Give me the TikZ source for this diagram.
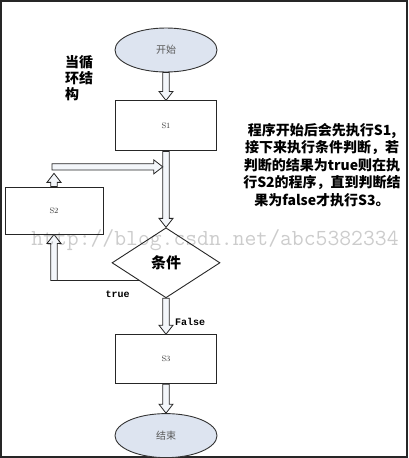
\documentclass[tikz,border=0pt]{standalone}
\usepackage{fontspec}
\newfontfamily\cjk{Noto Sans CJK SC}
\newfontfamily\mono{Liberation Mono}
\usepackage{xcolor}
\definecolor{colorTerminal}{RGB}{221,228,240}
\colorlet{colorShaft}{colorTerminal!35}
\colorlet{colorLabel}{black!65}
\colorlet{colorStep}{black!80}
\usetikzlibrary{calc, shapes.geometric, positioning}
\tikzset{
  hollow/.style={draw=black!85, fill=colorShaft, line width=0.8pt, line join=miter},
  terminal/.style={ellipse, draw=black!80, fill=colorTerminal, line width=0.9pt,
    minimum width=102pt, minimum height=44pt, inner sep=0pt, text=colorLabel,
    font=\cjk\fontsize{10pt}{12pt}\selectfont},
  process/.style={rectangle, draw=black!85, line width=0.9pt, minimum width=101pt,
    minimum height=50pt, inner sep=0pt, text=colorStep, font=\footnotesize},
  decision/.style={diamond, draw=black!85, line width=0.9pt, minimum width=108pt,
    minimum height=70pt, inner sep=0pt, font=\cjk\bfseries\fontsize{15pt}{17pt}\selectfont},
  branch/.style={inner sep=0pt, font=\mono\bfseries\fontsize{10pt}{12pt}\selectfont}
}
\newcommand{\hollowarrow}[2]{%
  \coordinate (ha) at ($(#2)!9pt!(#1)$);
  \draw[hollow] ($(#1)!3.2pt!90:(#2)$) -- ($(ha)!3.2pt!90:(#2)$) -- ($(ha)!7pt!90:(#2)$) -- (#2)
    -- ($(ha)!7pt!-90:(#2)$) -- ($(ha)!3.2pt!-90:(#2)$) -- ($(#1)!3.2pt!-90:(#2)$) -- cycle;}

\begin{document}
\begin{tikzpicture}[x=1pt, y=-1pt]
\useasboundingbox (0,0) rectangle (408,458);
\draw[line width=1.5pt, black!85] (1,1) rectangle (407,457);
\node[terminal] (n0) at (166,50) {开始};
\node[process, below=28pt of n0] (n1) {S1};
\node[decision, below=76pt of n1] (n2) {条件};
\node[process, below=36pt of n2, minimum height=49pt] (n4) {S3};
\node[terminal, below=29pt of n4] (n5) {结束};
\node[process, minimum width=98pt, minimum height=47pt] (n3) at (54,210.5) {S2};
\coordinate (c1) at ([xshift=-3.2pt, yshift=-15.5pt]n1.south);
\coordinate (c0) at ([xshift=-2pt]n3.north |- c1);
\coordinate (c2) at (n3.south |- n2.south west);
\hollowarrow{n0.south}{n1.north}
\hollowarrow{n1.south}{n2.north}
\hollowarrow{n2.south}{n4.north}
\hollowarrow{n4.south}{n5.north}
\draw[line width=0.9pt, black!85] (n2.south west) -- (c2);
\hollowarrow{c2}{n3.south}
\hollowarrow{n3.north}{[yshift=-6.5pt]n3.north |- c1}
\hollowarrow{c0}{c1}
\node[branch, below left=10pt and 9pt of n2.south west] (t0) {true};
\node[branch, below right=20pt and 9pt of n2.south] (t1) {False};
\node[anchor=north west, align=left, inner sep=0pt,
  font=\cjk\bfseries\fontsize{14pt}{16pt}\selectfont] (t2) at (65,55) {当循\\环结\\构};
\node[align=center, inner sep=0pt, font=\cjk\bfseries\fontsize{14pt}{17.5pt}\selectfont]
  (t3) at (322,165) {程序开始后会先执行S1,\\接下来执行条件判断，若\\判断的结果为true则在执\\行S2的程序，直到判断结\\果为false才执行S3。};
\node[text=black, text opacity=0.2, inner sep=0pt,
  font=\ttfamily\fontsize{23pt}{23pt}\selectfont] (w0) at (215,240) {http://blog.csdn.net/abc5382334};
\end{tikzpicture}
\end{document}
